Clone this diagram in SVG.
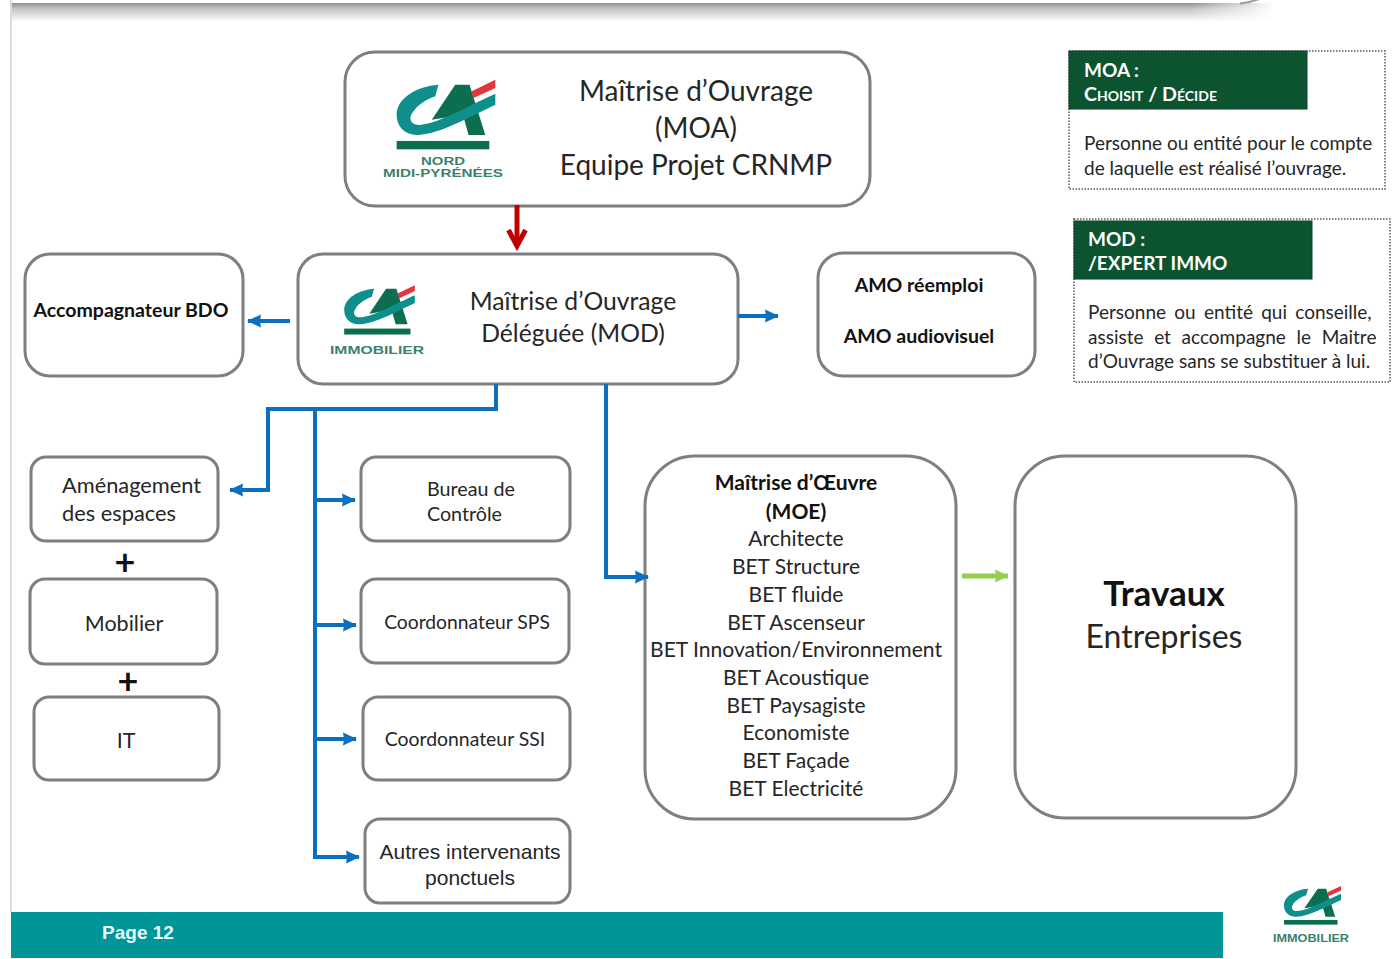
<svg xmlns="http://www.w3.org/2000/svg" xmlns:xlink="http://www.w3.org/1999/xlink" width="1395" height="959" viewBox="0 0 1395 959">
<style>
text{font-family:"Lato","Open Sans","Liberation Sans",sans-serif;fill:#262626;text-anchor:middle}
.box{fill:#fff;stroke:#7f7f7f;stroke-width:3}
.b{font-weight:700;fill:#111}
.l{text-anchor:start}
.blue{fill:none;stroke:#0b6fc0;stroke-width:4}
.leg{fill:#fff;stroke:#555;stroke-width:1.5;stroke-dasharray:1.5 1.5}
.gr{fill:#0c5330;stroke:#0a4226}
.w{fill:#fff;font-weight:700;text-anchor:start}
.m{font-size:28px}
.n{font-size:24.7px}
.s{font-size:21.8px}
.e{font-size:21px}
.t{font-size:19px}
.x{fill:#3c7f70;font-weight:700;font-family:"Liberation Sans",sans-serif}
</style>
<defs>
<linearGradient id="top" x1="0" y1="0" x2="0" y2="1"><stop offset="0" stop-color="#8f8f8f"/><stop offset="0.3" stop-color="#c4c4c4"/><stop offset="1" stop-color="#fff"/></linearGradient>
<linearGradient id="fade" x1="0" y1="0" x2="1" y2="0"><stop offset="0" stop-color="#fff" stop-opacity="0"/><stop offset="1" stop-color="#fff"/></linearGradient>
<marker id="ab" markerUnits="userSpaceOnUse" markerWidth="16" markerHeight="16" refX="13" refY="7" orient="auto"><path d="M0 0.5L14 7L0 13.5L1 7Z" fill="#0b6fc0"/></marker>
<marker id="ar" markerUnits="userSpaceOnUse" markerWidth="24" markerHeight="24" refX="17" refY="12" orient="auto"><path d="M1 3.5L17 12L1 20.5" fill="none" stroke="#c00000" stroke-width="5"/></marker>
<marker id="ag" markerUnits="userSpaceOnUse" markerWidth="16" markerHeight="16" refX="13" refY="7" orient="auto"><path d="M0 0.5L14 7L0 13.5L1 7Z" fill="#92d050"/></marker>
<symbol id="ca" viewBox="165 115 305 215" preserveAspectRatio="none">
<path d="M345 135L388 135L435 285L385 285L368 225L275 240Z" fill="#0c6e50"/>
<path d="M393 155L465 120L465 145L400 175Z" fill="#e5343a"/>
<path d="M295 135C230 140 170 175 170 225C170 265 200 287 235 285C300 283 400 225 465 195L465 162C400 190 300 250 240 255C215 257 205 240 215 222C230 195 265 175 285 170Z" fill="#0e8f8b"/>
<rect x="170" y="303" width="277" height="25" fill="#0c6e50"/>
</symbol>
</defs>

<g id="page">
<rect x="0" y="0" width="1395" height="959" fill="#fff"/>
<rect x="11" y="3" width="1260" height="19" fill="url(#top)"/>
<rect x="1190" y="0" width="85" height="24" fill="url(#fade)"/>
<path d="M1240 3.5Q1252 2 1262 -2" fill="none" stroke="#999" stroke-width="2"/>
<rect x="10" y="0" width="2" height="912" fill="#dcdcdc"/>
<rect x="11" y="912" width="1212" height="46" fill="#009597"/>
<text x="138" y="939" font-size="19" style="font-family:'Liberation Sans',sans-serif;font-weight:700;fill:#e6fbfb">Page 12</text>
<use xlink:href="#ca" href="#ca" x="1283" y="885" width="59" height="40"/>
<text class="x" x="1311" y="942" font-size="10" textLength="76" lengthAdjust="spacingAndGlyphs">IMMOBILIER</text>
</g>

<g id="moa">
<rect class="box" x="345" y="52" width="525" height="154" rx="30"/>
<use xlink:href="#ca" href="#ca" x="395" y="78" width="102" height="72"/>
<text class="x" x="443" y="165" font-size="11" textLength="44" lengthAdjust="spacingAndGlyphs">NORD</text>
<text class="x" x="443" y="177" font-size="11" textLength="120" lengthAdjust="spacingAndGlyphs">MIDI-PYRÉNÉES</text>
<text class="m" x="696" y="101">Maîtrise d’Ouvrage</text>
<text class="m" x="696" y="138">(MOA)</text>
<text class="m" x="696" y="175">Equipe Projet CRNMP</text>
</g>

<g id="mod">
<rect class="box" x="298" y="254" width="440" height="130" rx="25"/>
<use xlink:href="#ca" href="#ca" x="343" y="284" width="73" height="51"/>
<text class="x" x="377" y="354" font-size="11" textLength="94" lengthAdjust="spacingAndGlyphs">IMMOBILIER</text>
<text class="n" x="573" y="310">Maîtrise d’Ouvrage</text>
<text class="n" x="573" y="342">Déléguée (MOD)</text>
</g>

<g id="accompagnateur">
<rect class="box" x="25" y="254" width="218" height="122" rx="25"/>
<text class="b" x="131" y="317" font-size="19.5">Accompagnateur BDO</text>
</g>

<g id="amo">
<rect class="box" x="818" y="253" width="217" height="123" rx="25"/>
<text class="b" x="919" y="292" font-size="19.5">AMO réemploi</text>
<text class="b" x="919" y="343" font-size="19.5">AMO audiovisuel</text>
</g>

<g id="amenagement">
<rect class="box" x="31" y="457" width="187" height="84" rx="15"/>
<text class="s l" x="62" y="493">Aménagement</text>
<text class="s l" x="62" y="521">des espaces</text>
</g>
<text id="plus1" x="125" y="575" font-size="36" style="font-weight:700;fill:#111">+</text>
<g id="mobilier">
<rect class="box" x="30" y="579" width="187" height="85" rx="15"/>
<text x="124" y="631" font-size="21.5">Mobilier</text>
</g>
<text id="plus2" x="128" y="694" font-size="36" style="font-weight:700;fill:#111">+</text>
<g id="it">
<rect class="box" x="34" y="697" width="185" height="83" rx="15"/>
<text x="126" y="748" font-size="21.5">IT</text>
</g>

<g id="bureau">
<rect class="box" x="361" y="457" width="209" height="84" rx="15"/>
<text class="l" x="427" y="496" font-size="19.7">Bureau de</text>
<text class="l" x="427" y="521" font-size="19.7">Contrôle</text>
</g>
<g id="sps">
<rect class="box" x="361" y="579" width="208" height="84" rx="15"/>
<text x="467" y="629" font-size="19.3">Coordonnateur SPS</text>
</g>
<g id="ssi">
<rect class="box" x="363" y="697" width="207" height="83" rx="15"/>
<text x="465" y="746" font-size="19.4">Coordonnateur SSI</text>
</g>
<g id="autres">
<rect class="box" x="365" y="819" width="205" height="84" rx="15"/>
<text x="470" y="859" font-size="21" style="font-family:'Liberation Sans',sans-serif">Autres intervenants</text>
<text x="470" y="885" font-size="21" style="font-family:'Liberation Sans',sans-serif">ponctuels</text>
</g>

<g id="moe">
<rect class="box" x="645" y="456" width="311" height="363" rx="50"/>
<text class="e b" x="796" y="490">Maîtrise d’Œuvre</text>
<text class="e b" x="796" y="519">(MOE)</text>
<text class="e" x="796" y="546">Architecte</text>
<text class="e" x="796" y="574">BET Structure</text>
<text class="e" x="796" y="602">BET fluide</text>
<text class="e" x="796" y="630">BET Ascenseur</text>
<text class="e" x="796" y="657" textLength="292" lengthAdjust="spacingAndGlyphs">BET Innovation/Environnement</text>
<text class="e" x="796" y="685">BET Acoustique</text>
<text class="e" x="796" y="713">BET Paysagiste</text>
<text class="e" x="796" y="740">Economiste</text>
<text class="e" x="796" y="768">BET Façade</text>
<text class="e" x="796" y="796">BET Electricité</text>
</g>

<g id="travaux">
<rect class="box" x="1015" y="456" width="281" height="362" rx="50"/>
<text class="b" x="1164" y="606" font-size="35">Travaux</text>
<text x="1164" y="648" font-size="32">Entreprises</text>
</g>

<g id="legend-moa">
<rect class="leg" x="1069" y="51" width="316" height="138"/>
<rect class="gr" x="1069" y="51" width="238" height="58"/>
<text class="w" x="1084" y="77" font-size="19">MOA :</text>
<text class="w" x="1084" y="101" font-size="19.6" style="font-variant:small-caps">Choisit / Décide</text>
<text class="t l" x="1084" y="150">Personne ou entité pour le compte</text>
<text class="t l" x="1084" y="175">de laquelle est réalisé l’ouvrage.</text>
</g>
<g id="legend-mod">
<rect class="leg" x="1074" y="219" width="316" height="163"/>
<rect class="gr" x="1074" y="221" width="238" height="58"/>
<text class="w" x="1088" y="246" font-size="19">MOD :</text>
<text class="w" x="1088" y="270" font-size="19">/EXPERT IMMO</text>
<text class="t l" x="1088" y="319" word-spacing="3.4">Personne ou entité qui conseille,</text>
<text class="t l" x="1088" y="344" word-spacing="5.8">assiste et accompagne le Maitre</text>
<text class="t l" x="1088" y="368">d’Ouvrage sans se substituer à lui.</text>
</g>

<g id="connectors">
<path d="M517 205V246" fill="none" stroke="#c00000" stroke-width="5" marker-end="url(#ar)"/>
<path class="blue" d="M290 321H248" marker-end="url(#ab)"/>
<path class="blue" d="M738 316H778" marker-end="url(#ab)"/>
<path class="blue" d="M496 384V409H268V490H230" marker-end="url(#ab)"/>
<path class="blue" d="M315 409V857H359" marker-end="url(#ab)"/>
<path class="blue" d="M315 500H355" marker-end="url(#ab)"/>
<path class="blue" d="M315 625H356" marker-end="url(#ab)"/>
<path class="blue" d="M315 739H356" marker-end="url(#ab)"/>
<path class="blue" d="M606 384V577H648" marker-end="url(#ab)"/>
<path d="M962 576H1008" fill="none" stroke="#92d050" stroke-width="5" marker-end="url(#ag)"/>
</g>
</svg>
